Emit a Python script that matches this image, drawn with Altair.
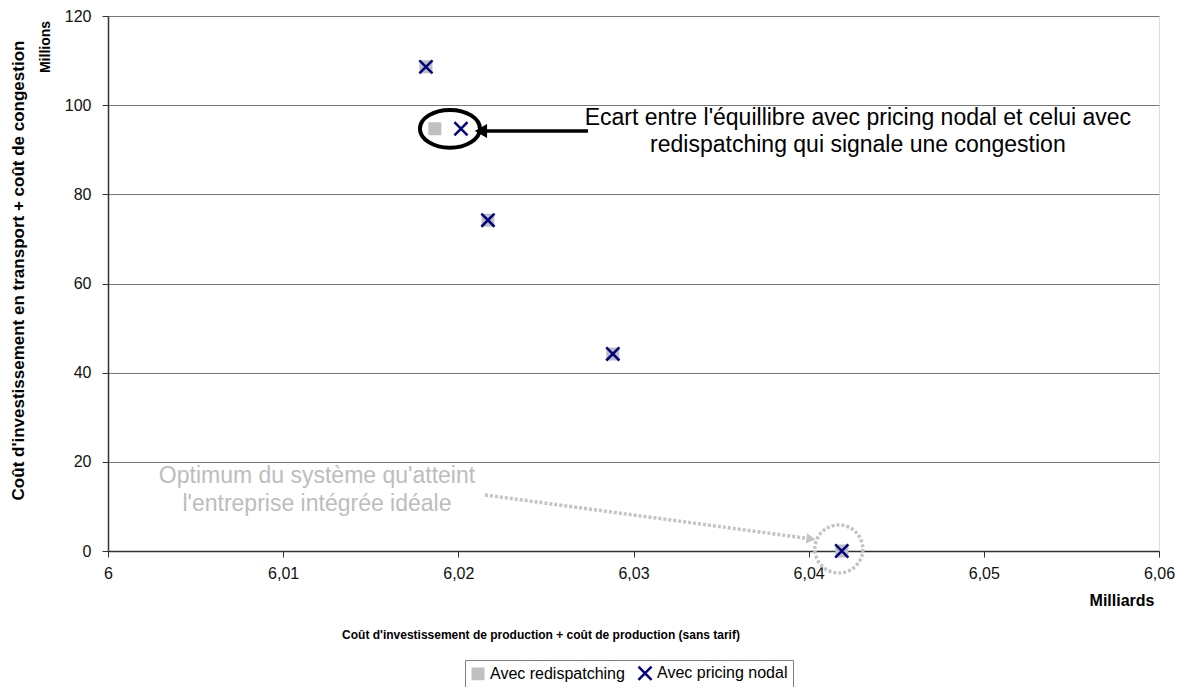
import altair as alt
import pandas as pd

# ---- data ----
series_names = ["Avec redispatching", "Avec pricing nodal"]
redispatch_x = [6.01815, 6.01866, 6.02169, 6.02882, 6.04189]
redispatch_y = [108.6, 94.7, 74.2, 44.2, 0.0]
nodal_x = [6.01815, 6.02015, 6.02169, 6.02882, 6.04189]
nodal_y = [108.6, 94.7, 74.2, 44.2, 0.0]
x_ticks = [6.0, 6.01, 6.02, 6.03, 6.04, 6.05, 6.06]
y_ticks = [0, 20, 40, 60, 80, 100, 120]

note1_lines = ["Ecart entre l'équillibre avec pricing nodal et celui avec",
               "redispatching qui signale une congestion"]
note2_lines = ["Optimum du système qu'atteint", "l'entreprise intégrée idéale"]

FONT = "Liberation Sans"

pts = pd.DataFrame({
    "x": redispatch_x + nodal_x,
    "y": redispatch_y + nodal_y,
    "series": [series_names[0]] * 5 + [series_names[1]] * 5,
})

xs = alt.Scale(domain=[6.0, 6.06], nice=False, zero=False)
ys = alt.Scale(domain=[0, 120], nice=False)
xaxis = alt.Axis(values=x_ticks, title=None, grid=False,
                 labelExpr="replace(format(datum.value, '.2~f'), '.', ',')",
                 labelFontSize=16, labelFont=FONT, labelColor="#111",
                 tickSize=6, labelPadding=8, tickColor="#333",
                 domainColor="#333", domainWidth=1.5, labelFlush=False)
yaxis = alt.Axis(values=y_ticks, grid=True, gridColor="#777", gridWidth=1,
                 labelFontSize=16, labelFont=FONT, labelColor="#111",
                 tickSize=6, labelPadding=11, tickColor="#333",
                 domainColor="#333", domainWidth=1.5,
                 title="Coût d'investissement en transport + coût de congestion",
                 titleFont=FONT, titleFontSize=17, titleFontWeight="bold",
                 titleX=-90, titleY=254, titleAngle=270,
                 titleAlign="center", titleBaseline="middle", titleColor="#000")

X = alt.X("x:Q", scale=xs, axis=xaxis)
Y = alt.Y("y:Q", scale=ys, axis=yaxis)

xshape = "M-1.25,-1.25L1.25,1.25M1.25,-1.25L-1.25,1.25"
legend = alt.Legend(orient="none", legendX=357, legendY=644, direction="horizontal",
                    title=None, strokeColor="#808080", padding=5,
                    labelFontSize=16, labelFont=FONT, labelColor="#000",
                    symbolSize=110, symbolStrokeWidth=2.5, columnPadding=8,
                    labelLimit=400, labelOffset=4)

points = alt.Chart(pts).mark_point(filled=True, size=110, strokeWidth=2.5, opacity=1).encode(
    x=X, y=Y,
    fill=alt.Fill("series:N", scale=alt.Scale(domain=series_names, range=["#C0C0C0", "#000080"]), legend=legend),
    stroke=alt.Stroke("series:N", scale=alt.Scale(domain=series_names, range=["#C0C0C0", "#000080"]), legend=legend),
    shape=alt.Shape("series:N", scale=alt.Scale(domain=series_names, range=["square", xshape]), legend=legend),
)

# ellipse around the gap
ell = alt.Chart(pd.DataFrame({"x": [6.01952], "y": [94.7]})).mark_point(
    shape="M-1,0A1,0.63,0,1,0,1,0A1,0.63,0,1,0,-1,0Z", size=3600,
    filled=False, stroke="#000", strokeWidth=4, opacity=1).encode(x=X, y=Y)

# black arrow
arrow_line = alt.Chart(pd.DataFrame({"x": [6.0274], "x2": [6.0212], "y": [94.2]})).mark_rule(
    color="#000", strokeWidth=3.5).encode(x=X, x2="x2:Q", y=Y)
arrow_head = alt.Chart(pd.DataFrame({"x": [6.02129], "y": [94.2]})).mark_point(
    shape="triangle-left", size=200, filled=True, color="#000", opacity=1).encode(x=X, y=Y)

note1 = alt.Chart(pd.DataFrame({"x": [6.04281, 6.04281], "y": [97.1, 91.0], "t": note1_lines})).mark_text(
    font=FONT, fontSize=23, color="#000", align="center", baseline="middle").encode(x=X, y=Y, text="t:N")

note2 = alt.Chart(pd.DataFrame({"x": [6.01193, 6.01193], "y": [16.8, 10.5], "t": note2_lines})).mark_text(
    font=FONT, fontSize=23, color="#BDBDBD", align="center", baseline="middle").encode(x=X, y=Y, text="t:N")

# gray dotted arrow
garrow = alt.Chart(pd.DataFrame({"x": [6.02152], "y": [12.56], "x2": [6.03990], "y2": [2.85]})).mark_rule(
    color="#C4C4C4", strokeWidth=3.5, strokeDash=[3, 2]).encode(x=X, y=Y, x2="x2:Q", y2="y2:Q")
ghead = alt.Chart(pd.DataFrame({"x": [6.04013], "y": [2.69]})).mark_point(
    shape="triangle-right", size=110, filled=True, color="#C4C4C4", angle=7.7, opacity=1).encode(x=X, y=Y)

gcircle = alt.Chart(pd.DataFrame({"x": [6.04172], "y": [0.45]})).mark_point(
    shape="circle", size=2304, filled=False, stroke="#C4C4C4", strokeWidth=3.5,
    strokeDash=[3, 2], opacity=1, clip=False).encode(x=X, y=Y)

millions = alt.Chart(pd.DataFrame({"t": ["Millions"]})).mark_text(
    font=FONT, fontSize=14, fontWeight="bold", angle=270, align="center", baseline="middle", color="#000").encode(
    x=alt.value(-62), y=alt.value(31), text="t:N")
milliards = alt.Chart(pd.DataFrame({"t": ["Milliards"]})).mark_text(
    font=FONT, fontSize=16, fontWeight="bold", align="center", baseline="middle", color="#000").encode(
    x=alt.value(1014), y=alt.value(585), text="t:N")
xtitle = alt.Chart(pd.DataFrame({"t": ["Coût d'investissement de production + coût de production (sans tarif)"]})).mark_text(
    font=FONT, fontSize=12, fontWeight="bold", align="center", baseline="middle", color="#000").encode(
    x=alt.value(433), y=alt.value(619), text="t:N")

chart = alt.layer(
    gcircle, garrow, ghead, ell, points, arrow_line, arrow_head, note1, note2,
    millions, milliards, xtitle,
).properties(
    width=1051, height=535,
    autosize=alt.AutoSizeParams(type="none"),
    padding={"left": 100, "top": 8, "right": 17, "bottom": 136},
).configure_view(stroke="#808080", strokeWidth=1.5).configure(background="white")

chart.save("out.html", embed_options={"renderer": "svg", "actions": False})
